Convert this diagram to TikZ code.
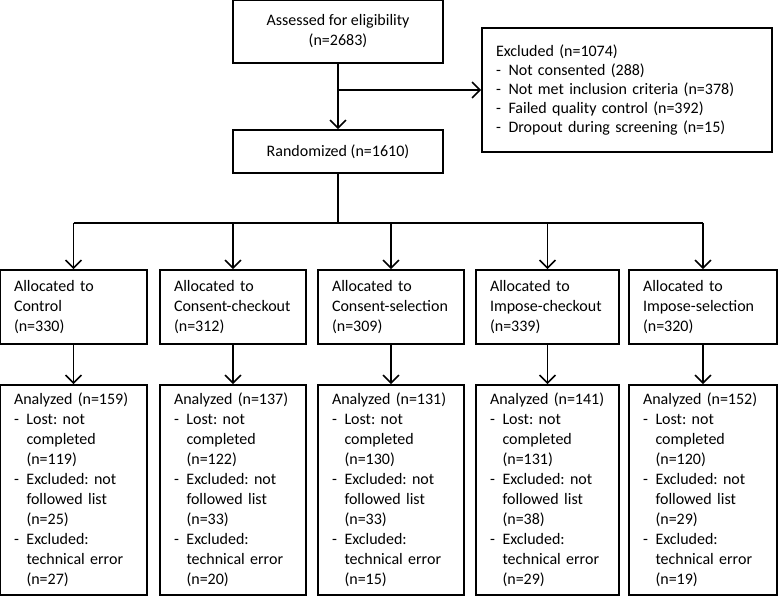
\documentclass[tikz,border=0pt]{standalone}
\usepackage{fontspec}
\setmainfont{Carlito}
\usetikzlibrary{arrows.meta,calc}
\frenchspacing
\newcommand\itm{\makebox[12.5pt][l]{-}}
\newcommand\ind{\hspace*{12.5pt}}
\tikzset{
  box/.style={draw, line width=1.6pt, inner xsep=14pt, inner ysep=0pt, align=left,
    font=\fontsize{16}{20}\selectfont},
  ctr/.style={box, align=center},
  arr/.style={line width=1.6pt, -{Straight Barb[length=8pt,width=16pt,line width=1.6pt]}},
  ln/.style={line width=1.6pt},
}
\begin{document}
\begin{tikzpicture}[x=1pt,y=-1pt]
\useasboundingbox (0,0) rectangle (778,596);
\node[ctr, minimum width=210pt, minimum height=63pt] (assess) at (338,31.5) {Assessed for eligibility\\(n=2683)};
\node[ctr, minimum width=210pt, minimum height=43pt] (rand) at (338,151.5) {Randomized (n=1610)};
\node[box, text width=262pt, minimum height=124pt, font=\fontsize{16}{19}\selectfont] (excl) at (627,90) {Excluded (n=1074)\\
\itm Not consented (288)\\
\itm Not met inclusion criteria (n=378)\\
\itm Failed quality control (n=392)\\
\itm Dropout during screening (n=15)};

\def\mk#1#2#3#4#5#6#7#8#9{%
  \node[box, text width=#2pt, minimum height=74pt] (al#1) at (#3,307) {Allocated to\\#4\\#5};
  \node[box, text width=#2pt, minimum height=210pt] (an#1) at (#3,490) {Analyzed (n=#6)\\
  \itm Lost: not\\ \ind completed\\ \ind (n=#7)\\
  \itm Excluded: not\\ \ind followed list\\ \ind (n=#8)\\
  \itm Excluded:\\ \ind technical error\\ \ind (n=#9)};
  \draw[arr] (al#1) -- (an#1);
}
\mk{1}{119}{73.5}{Control}{(n=330)}{159}{119}{25}{27}
\mk{2}{118}{233}{Consent-checkout}{(n=312)}{137}{122}{33}{20}
\mk{3}{118}{391}{Consent-selection}{(n=309)}{131}{130}{33}{15}
\mk{4}{115}{547.5}{Impose-checkout}{(n=339)}{141}{131}{38}{29}
\mk{5}{120}{703}{Impose-selection}{(n=320)}{152}{120}{29}{19}

\draw[arr] (assess) -- (rand);
\coordinate (split) at (assess.south |- excl.west);
\draw[arr] (split) -- (excl.west);
\coordinate (bus) at ($(rand.south)+(0,49)$);
\draw[ln] (rand.south) -- (bus);
\draw[ln] (al1.north |- bus) -- (al5.north |- bus);
\foreach \k in {1,...,5}{
  \draw[arr] (al\k.north |- bus) -- (al\k.north);
}
\end{tikzpicture}
\end{document}
